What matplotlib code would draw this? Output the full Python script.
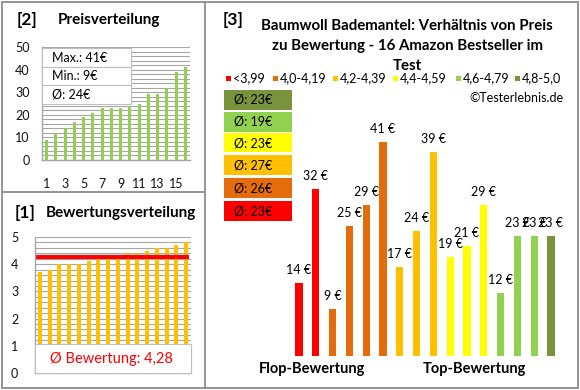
import matplotlib.pyplot as plt
from matplotlib.patches import Rectangle
from matplotlib.lines import Line2D

plt.rcParams['font.family'] = ['Lato', 'DejaVu Sans']

# data
price_sorted = [9, 12, 14, 17, 19, 21, 23, 23, 23, 24, 25, 29, 29, 32, 39, 41]
rating_sorted = [3.7, 3.8, 4.0, 4.0, 4.0, 4.1, 4.2, 4.2, 4.2, 4.4, 4.4, 4.5, 4.6, 4.6, 4.7, 4.8]
rating_avg = 4.28
price_max, price_min, price_avg = 41, 9, 24

product_prices = [14, 32, 9, 25, 29, 41, 17, 24, 39, 19, 21, 29, 12, 23, 23, 23]
product_group = [0, 0, 1, 1, 1, 1, 2, 2, 2, 3, 3, 3, 4, 4, 4, 5]
group_labels = ['<3,99', '4,0-4,19', '4,2-4,39', '4,4-4,59', '4,6-4,79', '4,8-5,0']
group_colors = ['#FF0000', '#E46C0A', '#FFC000', '#FFFF00', '#92D050', '#77933C']
group_avgs = [23, 26, 27, 23, 19, 23]

W, H = 580, 390
fig = plt.figure(figsize=(W / 100, H / 100), dpi=100)
GRAY = '#8c8c8c'
GRID = '#a6a6a6'


def fx(x):
    return x / W


def fy(y):
    return 1 - y / H


def px_axes(x0, y0, x1, y1):
    # axes from pixel box (top-left origin)
    return fig.add_axes([fx(x0), fy(y1), fx(x1) - fx(x0), fy(y0) - fy(y1)])


def ftext(x, y, s, **kw):
    fig.text(fx(x), fy(y), s, **kw)


def style_axes(ax):
    for s in ['top', 'right']:
        ax.spines[s].set_visible(False)
    for s in ['left', 'bottom']:
        ax.spines[s].set_color(GRID)
        ax.spines[s].set_linewidth(1)
    ax.tick_params(length=0, labelsize=9, colors='#111111')
    ax.set_axisbelow(True)


# frame lines
fig.add_artist(Rectangle((fx(1.5), fy(388)), fx(578) - fx(1.5), fy(1.5) - fy(388),
                         fill=False, edgecolor=GRAY, lw=1.3, transform=fig.transFigure))
fig.add_artist(Line2D([fx(205), fx(205)], [fy(1.5), fy(388)], color=GRAY, lw=1.3))
fig.add_artist(Line2D([fx(1.5), fx(205)], [fy(192), fy(192)], color=GRAY, lw=1.3))

# ---- [2] Preisverteilung
ax2 = px_axes(42, 47, 190, 160)
style_axes(ax2)
x16 = list(range(1, 17))
ax2.bar(x16, price_sorted, width=0.35, color='#92D050')
ax2.set_xlim(0.5, 16.5)
ax2.set_ylim(0, 50)
ax2.set_yticks([0, 10, 20, 30, 40, 50])
ax2.set_yticks(range(0, 51, 2), minor=True)
ax2.set_xticks(range(1, 17, 2))
ax2.tick_params(axis='x', pad=13)
ax2.tick_params(axis='y', pad=9)
ax2.tick_params(which='minor', length=0)
ax2.grid(axis='y', which='both', color=GRID, lw=0.8)
ftext(27, 20, '[2]', fontsize=12.5, fontweight='bold', ha='center', va='center')
ftext(109, 20, 'Preisverteilung', fontsize=11, fontweight='bold', ha='center', va='center')
info = ['Max.: %d€' % price_max, 'Min.: %d€' % price_min, 'Ø: %d€' % price_avg]
for i, s in enumerate(info):
    y0 = 48 + i * 18.5
    fig.add_artist(Rectangle((fx(42), fy(y0 + 18.5)), fx(131) - fx(42), fy(y0) - fy(y0 + 18.5),
                             facecolor='white', edgecolor='#bfbfbf', lw=0.8,
                             transform=fig.transFigure))
    ftext(52, y0 + 9.5, s, fontsize=9, ha='left', va='center')

# ---- [1] Bewertungsverteilung
ax1 = px_axes(35, 237, 191, 373)
style_axes(ax1)
ax1.bar(x16, rating_sorted, width=0.42, color='#FFC000')
ax1.set_xlim(0.5, 16.5)
ax1.set_ylim(0, 5)
ax1.set_yticks(range(0, 6))
ax1.set_yticks([i * 0.2 for i in range(26)], minor=True)
ax1.tick_params(which='minor', length=0)
ax1.tick_params(axis='y', pad=12)
ax1.set_xticks([])
ax1.grid(axis='y', which='both', color=GRID, lw=0.8)
ax1.plot([0.6, 16.3], [rating_avg, rating_avg], color='#FF0000', lw=3, solid_capstyle='butt')
ax1.add_patch(Rectangle((0.5, 0), 16, 1.07, facecolor='white', edgecolor='#bfbfbf',
                        lw=0.8, clip_on=False, zorder=5))
ax1.text(8.3, 0.53, 'Ø Bewertung: ' + ('%.2f' % rating_avg).replace('.', ','),
         color='#FF0000', fontsize=10.5, ha='center', va='center', zorder=6)
ftext(25, 213, '[1]', fontsize=12.5, fontweight='bold', ha='center', va='center')
ftext(121, 213, 'Bewertungsverteilung', fontsize=11, fontweight='bold', ha='center', va='center')

# ---- [3] Preis vs Bewertung
ax3 = px_axes(290.6, 142, 559.4, 356)
ax3.axis('off')
colors = [group_colors[g] for g in product_group]
ax3.bar(x16, product_prices, width=0.42, color=colors)
ax3.set_xlim(0.5, 16.5)
ax3.set_ylim(0, max(product_prices))
for xi, p in zip(x16, product_prices):
    ax3.annotate('%d €' % p, (xi, p), xytext=(0, 5), textcoords='offset points',
                 ha='center', va='bottom', fontsize=9, annotation_clip=False)
ftext(233, 20, '[3]', fontsize=12.5, fontweight='bold', ha='center', va='center')
ftext(407, 46, 'Baumwoll Bademantel: Verhältnis von Preis\nzu Bewertung - 16 Amazon Bestseller im\nTest',
      fontsize=10.8, fontweight='bold', ha='center', va='center', linespacing=1.5)

leg_x = [226, 273, 333, 393, 456, 515]
for lx, lab, c in zip(leg_x, group_labels, group_colors):
    fig.add_artist(Rectangle((fx(lx), fy(81)), fx(5) - fx(0), fy(0) - fy(5),
                             facecolor=c, edgecolor='none', transform=fig.transFigure))
    ftext(lx + 7, 78, lab, fontsize=9, ha='left', va='center')
ftext(563, 98, '©Testerlebnis.de', fontsize=9, ha='right', va='center')

box_y = [90, 112, 133, 155, 178, 201]
for i, y0 in enumerate(box_y):
    g = 5 - i
    fig.add_artist(Rectangle((fx(224), fy(y0 + 19.5)), fx(292) - fx(224), fy(y0) - fy(y0 + 19.5),
                             facecolor=group_colors[g], edgecolor='none',
                             transform=fig.transFigure))
    ftext(234, y0 + 10, 'Ø: %d€' % group_avgs[g], fontsize=9, ha='left', va='center')

ftext(312, 369, 'Flop-Bewertung', fontsize=10.5, fontweight='bold', ha='center', va='center')
ftext(474, 369, 'Top-Bewertung', fontsize=10.5, fontweight='bold', ha='center', va='center')

fig.savefig('out.png', dpi=100)
